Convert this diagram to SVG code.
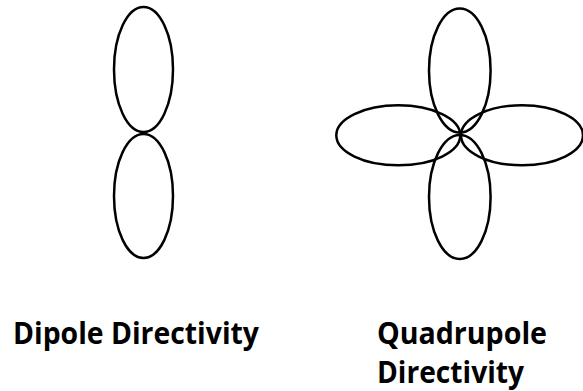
<svg xmlns="http://www.w3.org/2000/svg" width="583" height="391" viewBox="0 0 583 391">
<style>
.lobe{fill:none;stroke:#000;stroke-width:2.5}
.lbl{font-family:"Open Sans","Liberation Sans",sans-serif;font-weight:bold;font-size:31px;fill:#000}
</style>
<rect width="583" height="391" fill="#fff"/>
<g id="dipole">
<ellipse class="lobe" cx="143.5" cy="69.5" rx="29.5" ry="62.5"/>
<ellipse class="lobe" cx="143.5" cy="196" rx="29.5" ry="62"/>
</g>
<g id="quadrupole">
<ellipse class="lobe" cx="459.8" cy="70.5" rx="30.8" ry="62"/>
<ellipse class="lobe" cx="459.8" cy="197" rx="30.8" ry="62"/>
<ellipse class="lobe" cx="398.3" cy="135.3" rx="62" ry="30"/>
<ellipse class="lobe" cx="522" cy="135.3" rx="61" ry="30"/>
</g>
<g id="labels">
<text class="lbl" x="13" y="344" textLength="246" lengthAdjust="spacingAndGlyphs">Dipole Directivity</text>
<text class="lbl" x="377" y="344" textLength="170" lengthAdjust="spacingAndGlyphs">Quadrupole</text>
<text class="lbl" x="377" y="383" textLength="147" lengthAdjust="spacingAndGlyphs">Directivity</text>
</g>
</svg>
